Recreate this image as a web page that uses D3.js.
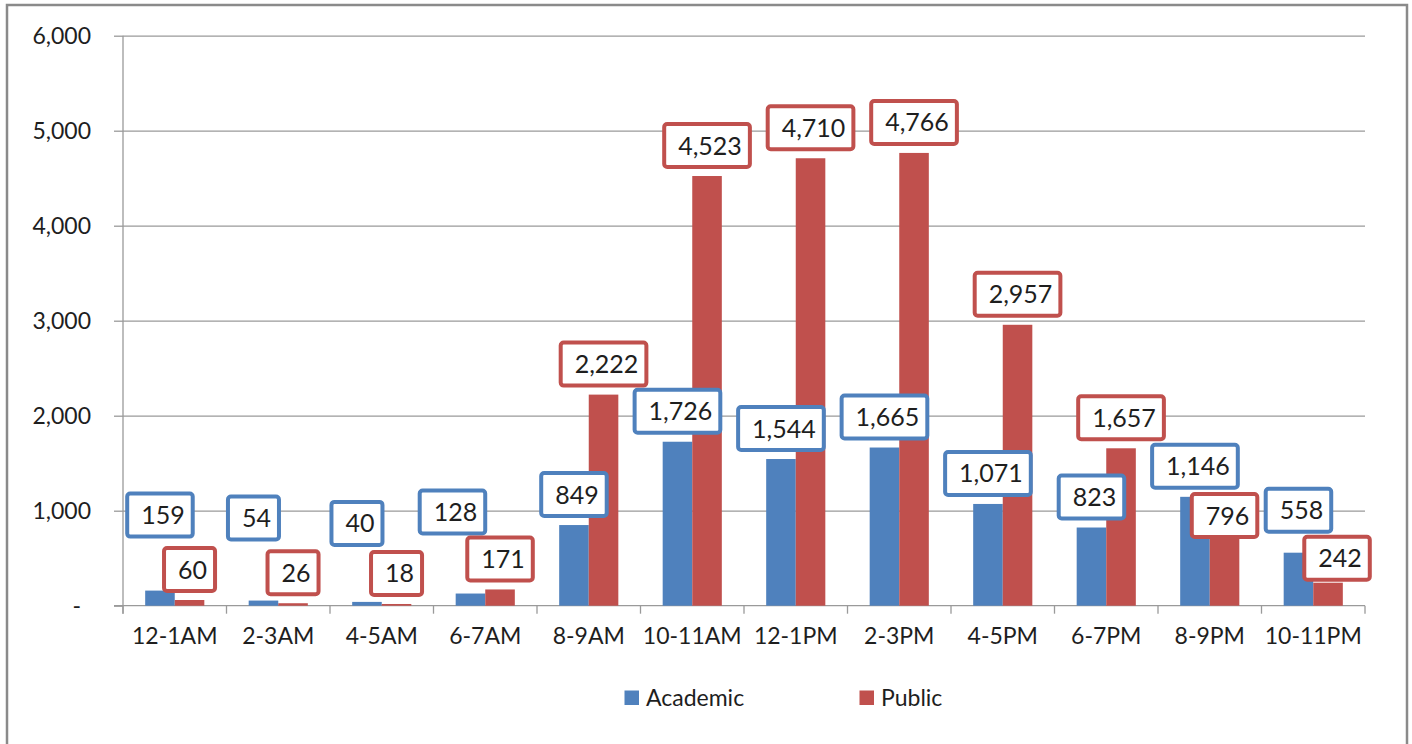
<!DOCTYPE html>
<html>
<head>
<meta charset="utf-8">
<script src="https://cdn.jsdelivr.net/npm/d3@7"></script>
<style>
  html, body { margin: 0; padding: 0; background: #fff; }
  svg { display: block; font-family: Lato, "Open Sans", sans-serif; }
</style>
</head>
<body>
<svg id="chart" width="1412" height="744"></svg>
<script>
// Hourly counts by user group
const categories = ["12-1AM", "2-3AM", "4-5AM", "6-7AM", "8-9AM", "10-11AM",
                    "12-1PM", "2-3PM", "4-5PM", "6-7PM", "8-9PM", "10-11PM"];
const seriesNames = ["Academic", "Public"];
const academic = [159, 54, 40, 128, 849, 1726, 1544, 1665, 1071, 823, 1146, 558];
const publicUse = [60, 26, 18, 171, 2222, 4523, 4710, 4766, 2957, 1657, 796, 242];
const yTicks = [0, 1000, 2000, 3000, 4000, 5000, 6000];

// Hand-placed label nudges [dx, dy] in pixels, so crowded labels don't collide
const academicLabelNudge = [[0, -45], [-10, -52], [-10, -48], [-18, -51], [0, 0], [0, 0],
                            [0, 0], [0, 0], [0, 0], [0, 0], [0, 0], [0, -12]];
const publicLabelNudge = [[0, 0], [0, 0], [0, 0], [0, 0], [0, 0], [0, 0],
                          [0, 0], [0, 0], [0, 0], [0, 0], [0, 16], [9, 6]];

const colors = { Academic: "#4F81BD", Public: "#C0504D" };
const textColor = "#1e1e1e";
const axisColor = "#9a9a9a";

const svg = d3.select("#chart");

// outer frame
svg.append("rect")
  .attr("x", 7).attr("y", 5)
  .attr("width", 1400).attr("height", 760)
  .attr("fill", "#fff")
  .attr("stroke", "#8a8a8a").attr("stroke-width", 2.5);

const plot = { left: 123, right: 1365, top: 35.7, bottom: 605.7 };

const y = d3.scaleLinear().domain([0, 6000]).range([plot.bottom, plot.top]);
const x0 = d3.scaleBand().domain(categories).range([plot.left, plot.right]).padding(0);
const x1 = d3.scaleBand().domain(seriesNames).range([0, x0.step()])
  .paddingInner(0).paddingOuter(0.75);

// horizontal gridlines
svg.append("g")
  .attr("transform", `translate(${plot.left},0)`)
  .call(d3.axisLeft(y).tickValues(yTicks.filter(d => d > 0))
        .tickSize(-(plot.right - plot.left)).tickFormat(""))
  .call(g => g.select(".domain").remove())
  .call(g => g.selectAll("line").attr("stroke", axisColor).attr("stroke-width", 1.3));

// y axis with labels
svg.append("g")
  .attr("transform", `translate(${plot.left},0)`)
  .call(d3.axisLeft(y).tickValues(yTicks).tickSize(9).tickPadding(23)
        .tickFormat(d => d === 0 ? "-" : d3.format(",")(d)))
  .call(g => g.select(".domain").attr("stroke", axisColor).attr("stroke-width", 1.3)
        .attr("d", `M0,${plot.top}V${plot.bottom + 8}`))
  .call(g => g.selectAll("line").attr("stroke", axisColor).attr("stroke-width", 1.3))
  .call(g => g.selectAll("text")
        .attr("fill", textColor).attr("font-size", 23)
        .attr("font-family", "Lato, sans-serif")
        .attr("dx", d => d === 0 ? -10 : 0));

// x axis: baseline, category boundary ticks, centered labels
const xAxisG = svg.append("g").attr("transform", `translate(0,${plot.bottom})`);
xAxisG.call(d3.axisBottom(x0).tickSize(0).tickPadding(22))
  .call(g => g.select(".domain").attr("stroke", axisColor).attr("stroke-width", 1.3)
        .attr("d", `M${plot.left - 9},0H${plot.right}`))
  .call(g => g.selectAll("text")
        .attr("fill", textColor).attr("font-size", 23)
        .attr("font-family", "Lato, sans-serif"));
const boundaries = categories.map(c => x0(c)).concat([x0(categories[categories.length - 1]) + x0.step()]);
xAxisG.selectAll("line.boundary")
  .data(boundaries)
  .join("line")
  .attr("class", "boundary")
  .attr("x1", d => d).attr("x2", d => d)
  .attr("y1", 0).attr("y2", 8)
  .attr("stroke", axisColor).attr("stroke-width", 1.3);

// bars
const rows = categories.map((c, i) => ({
  cat: c,
  values: [
    { key: "Academic", value: academic[i], nudge: academicLabelNudge[i] },
    { key: "Public", value: publicUse[i], nudge: publicLabelNudge[i] }
  ]
}));

const groups = svg.append("g").selectAll("g")
  .data(rows)
  .join("g")
  .attr("transform", d => `translate(${x0(d.cat)},0)`);

groups.selectAll("rect")
  .data(d => d.values)
  .join("rect")
  .attr("x", d => x1(d.key))
  .attr("width", x1.bandwidth())
  .attr("y", d => y(d.value))
  .attr("height", d => plot.bottom - y(d.value))
  .attr("fill", d => colors[d.key]);

// boxed value labels, one layer per series
const fmt = d3.format(",");
seriesNames.forEach(name => {
  const layer = svg.append("g");
  rows.forEach(r => {
    const v = r.values.find(d => d.key === name);
    const cx = x0(r.cat) + x1(name) + x1.bandwidth() / 2 + v.nudge[0];
    const cy = y(v.value) - 30.5 + v.nudge[1];
    const g = layer.append("g").attr("transform", `translate(${cx},${cy})`);
    const rect = g.append("rect");
    const t = g.append("text")
      .attr("text-anchor", "middle")
      .attr("x", 3)
      .attr("y", 9)
      .attr("font-size", 25)
      .attr("font-family", "Lato, sans-serif")
      .attr("fill", textColor)
      .text(fmt(v.value));
    const w = t.node().getComputedTextLength() + 22;
    const h = 43;
    rect.attr("x", -w / 2).attr("y", -h / 2)
      .attr("width", w).attr("height", h)
      .attr("rx", 3).attr("ry", 3)
      .attr("fill", "#fff")
      .attr("stroke", colors[name]).attr("stroke-width", 4);
  });
});

// legend
const legendItems = [
  { key: "Academic", x: 624.5 },
  { key: "Public", x: 859.5 }
];
const legend = svg.append("g");
legendItems.forEach(it => {
  legend.append("rect")
    .attr("x", it.x).attr("y", 690.5)
    .attr("width", 14.5).attr("height", 14.5)
    .attr("fill", colors[it.key]);
  legend.append("text")
    .attr("x", it.x + 21.5).attr("y", 705.5)
    .attr("font-size", 23)
    .attr("font-family", "Lato, sans-serif")
    .attr("fill", textColor)
    .text(it.key);
});
</script>
</body>
</html>
